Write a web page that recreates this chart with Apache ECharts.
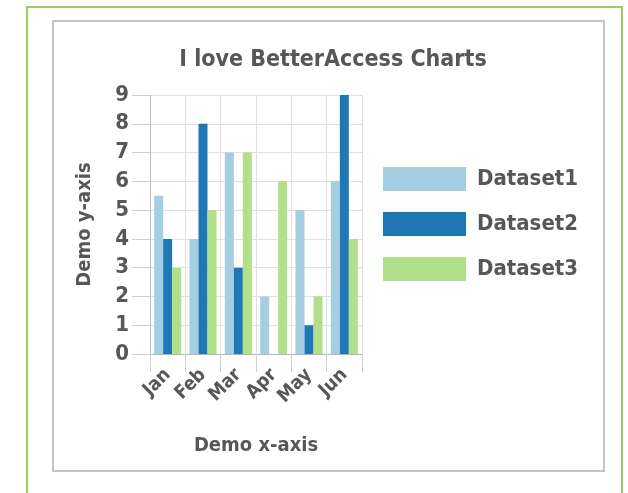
<!DOCTYPE html>
<html>
<head>
<meta charset="utf-8">
<script src="https://cdn.jsdelivr.net/npm/echarts@6/dist/echarts.min.js"></script>
<style>html,body{margin:0;padding:0;background:#fff;}#c{width:628px;height:493px;}</style>
</head>
<body>
<div id="c"></div>
<script>
var categories = ['Jan', 'Feb', 'Mar', 'Apr', 'May', 'Jun'];
var dataset1 = [5.5, 4, 7, 2, 5, 6];
var dataset2 = [4, 8, 3, 0, 1, 9];
var dataset3 = [3, 5, 7, 6, 2, 4];
var seriesNames = ['Dataset1', 'Dataset2', 'Dataset3'];
var titleText = 'I love BetterAccess Charts';

var FONT = '"Liberation Sans Narrow", "DejaVu Sans Condensed", "Liberation Sans", sans-serif';
var TXT = '#575757';
var chart = echarts.init(document.getElementById('c'));
chart.setOption({
  animation: false,
  color: ['#a6cee3', '#1f78b4', '#b2df8a'],
  graphic: [
    { type: 'rect', shape: { x: 27, y: 7, width: 595, height: 600 }, style: { fill: 'none', stroke: '#9ccc5c', lineWidth: 2 } },
    { type: 'rect', shape: { x: 53, y: 21, width: 551, height: 450 }, style: { fill: 'none', stroke: '#c4c4c4', lineWidth: 2 } }
  ],
  title: {
    text: titleText, left: 328, top: 44, textAlign: 'center',
    textStyle: { fontFamily: FONT, fontSize: 23, fontWeight: 'bold', color: TXT }
  },
  legend: {
    orient: 'vertical', left: 383, top: 167, padding: 0, itemWidth: 83, itemHeight: 24, itemGap: 21,
    icon: 'rect', data: seriesNames,
    textStyle: { fontFamily: FONT, fontSize: 22, fontWeight: 'bold', color: TXT, padding: [0, 0, 0, 6] }
  },
  grid: { left: 150, top: 95, width: 212, height: 259, containLabel: false },
  xAxis: {
    type: 'category', data: categories,
    name: 'Demo x-axis', nameLocation: 'middle', nameGap: 82,
    nameTextStyle: { fontFamily: FONT, fontSize: 20, fontWeight: 'bold', color: TXT },
    axisLine: { show: true, lineStyle: { color: '#b5b5b5', width: 1 } },
    axisTick: { show: true, interval: 0, length: 18, lineStyle: { color: '#d0d0d0', width: 1 } },
    splitLine: { show: true, interval: 0, lineStyle: { color: '#e0e0e0' } },
    axisLabel: { interval: 0, rotate: 45, margin: 18, fontFamily: FONT, fontSize: 19, fontWeight: 'bold', color: TXT }
  },
  yAxis: {
    type: 'value', min: 0, max: 9, interval: 1,
    name: 'Demo y-axis', nameLocation: 'middle', nameGap: 55, nameRotate: 90,
    nameTextStyle: { fontFamily: FONT, fontSize: 20, fontWeight: 'bold', color: TXT },
    axisLine: { show: true, lineStyle: { color: '#c0c0c0', width: 1 } },
    axisTick: { show: true, length: 18, lineStyle: { color: '#d0d0d0', width: 1 } },
    splitLine: { show: true, lineStyle: { color: '#e0e0e0' } },
    axisLabel: { margin: 21, fontFamily: FONT, fontSize: 22, fontWeight: 'bold', color: TXT }
  },
  series: [
    { name: seriesNames[0], type: 'bar', data: dataset1, barWidth: 9, barGap: '0%' },
    { name: seriesNames[1], type: 'bar', data: dataset2, barWidth: 9, barGap: '0%' },
    { name: seriesNames[2], type: 'bar', data: dataset3, barWidth: 9, barGap: '0%' }
  ]
});
</script>
</body>
</html>
